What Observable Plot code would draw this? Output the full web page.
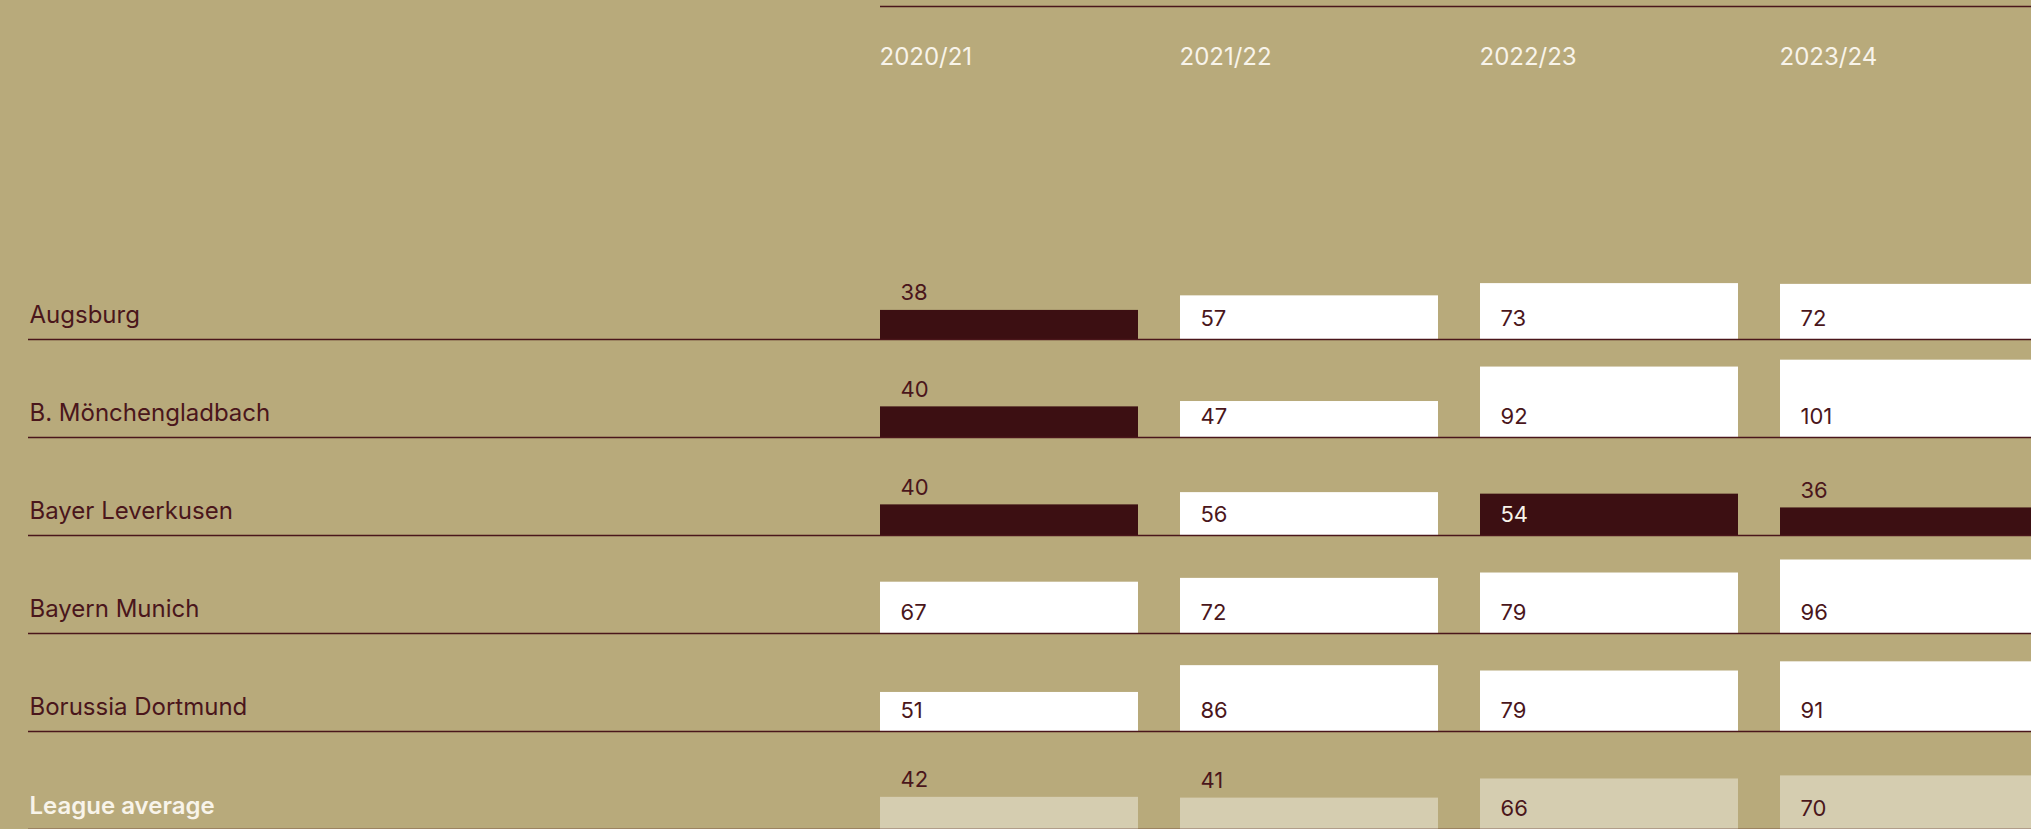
<!DOCTYPE html>
<html>
<head>
<meta charset="utf-8">
<script src="https://cdn.jsdelivr.net/npm/d3@7"></script>
<script src="https://cdn.jsdelivr.net/npm/@observablehq/plot@0.6"></script>
<style>
  html, body { margin: 0; padding: 0; background: #b8aa7b; overflow: hidden; }
  #chart { width: 2031px; }
</style>
</head>
<body>
<div id="chart"></div>
<script>
const teams = ["Augsburg", "B. Mönchengladbach", "Bayer Leverkusen", "Bayern Munich", "Borussia Dortmund", "League average"];
const seasons = ["2020/21", "2021/22", "2022/23", "2023/24"];
const augsburg = [38, 57, 73, 72];
const gladbach = [40, 47, 92, 101];
const leverkusen = [40, 56, 54, 36];
const bayern = [67, 72, 79, 96];
const dortmund = [51, 86, 79, 91];
const leagueAvg = [42, 41, 66, 70];

const series = [augsburg, gladbach, leverkusen, bayern, dortmund, leagueAvg];
const AVG = "League average";
const data = [];
teams.forEach((team, ti) => {
  seasons.forEach((season, si) => {
    const value = series[ti][si];
    data.push({team, season, value, below: team !== AVG && value < leagueAvg[si]});
  });
});

const maroon = "#4a161b";
const darkBar = "#3c0f12";
const lightText = "#f8f4ea";
const avgBar = "#d5cdb0";
const barFill = d => d.team === AVG ? avgBar : d.below ? darkBar : "#ffffff";
const inside = data.filter(d => d.value >= 45);
const outside = data.filter(d => d.value < 45);
const clubs = teams.filter(t => t !== AVG);

const chart = Plot.plot({
  width: 2031,
  height: 832,
  marginTop: 240,
  marginBottom: 2,
  marginLeft: 28,
  marginRight: 0,
  style: {background: "transparent", fontFamily: "Inter, 'Noto Sans', sans-serif", overflow: "hidden"},
  x: {type: "band", domain: seasons, range: [878, 2039], paddingInner: 0.14, paddingOuter: 0, axis: null},
  y: {domain: [0, 128], axis: null},
  fy: {domain: teams, padding: 0, axis: null},
  marks: [
    Plot.barY(data, {x: "season", y: "value", fy: "team", fill: barFill}),
    Plot.ruleY(teams, {fy: d => d, y: () => 0, stroke: maroon, strokeWidth: 1.5}),
    Plot.ruleY([teams[0]], {fy: d => d, y: () => 128, x1: () => seasons[0], x2: () => seasons[seasons.length - 1], dy: -235, stroke: maroon, strokeWidth: 1.5}),
    Plot.text(seasons, {x: d => d, fy: () => teams[0], frameAnchor: "top", text: d => d, dy: 63 - 240, dx: -130, textAnchor: "start", lineAnchor: "bottom", fill: lightText, fontSize: 24}),
    Plot.text(clubs, {fy: d => d, frameAnchor: "bottom-left", text: d => d, dy: -17, dx: 1, textAnchor: "start", lineAnchor: "bottom",
      fill: maroon, fontWeight: 400, fontSize: 24}),
    Plot.text([AVG], {fy: d => d, frameAnchor: "bottom-left", text: d => d, dy: -16, dx: 1, textAnchor: "start", lineAnchor: "bottom",
      fill: lightText, fontWeight: 600, fontSize: 24}),
    Plot.text(inside, {x: "season", fy: "team", frameAnchor: "bottom", text: d => String(d.value), dy: -14, dx: -109, textAnchor: "start", lineAnchor: "bottom",
      fill: d => d.below ? lightText : maroon, fontSize: 22}),
    Plot.text(outside, {x: "season", y: "value", fy: "team", text: d => String(d.value), dy: -10, dx: -109, textAnchor: "start", lineAnchor: "bottom",
      fill: maroon, fontSize: 22})
  ]
});
document.getElementById("chart").append(chart);
</script>
</body>
</html>
